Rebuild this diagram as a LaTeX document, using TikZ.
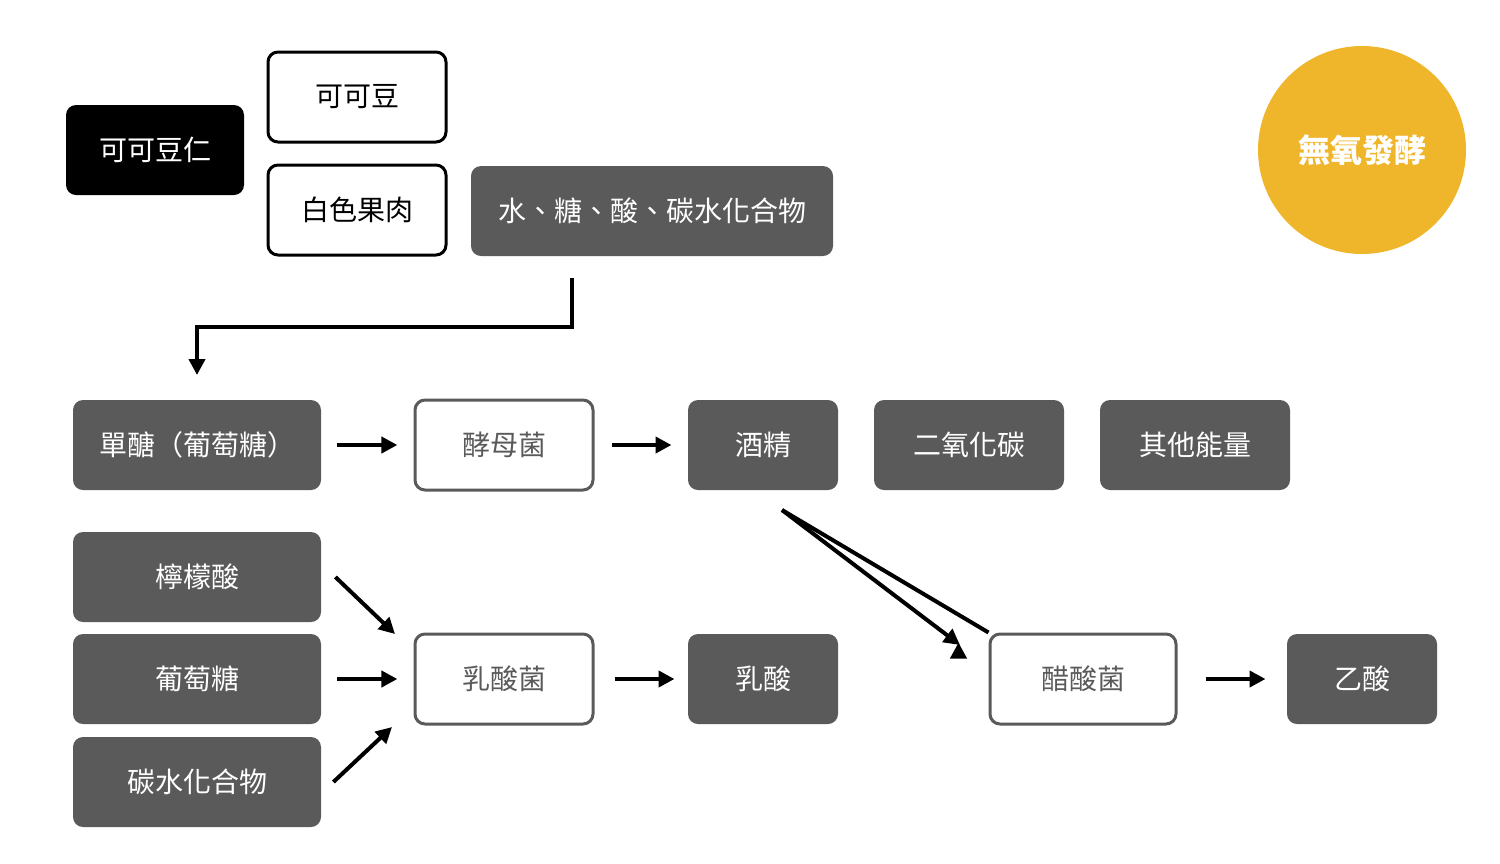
\documentclass[tikz,border=0pt]{standalone}
\usepackage{fontspec}
\setmainfont{Noto Sans CJK TC}
\usetikzlibrary{arrows.meta}
\definecolor{boxgray}{HTML}{5A5A5A}
\definecolor{fermyellow}{HTML}{F0B62B}
\begin{document}
\begin{tikzpicture}[x=0.5pt,y=-0.5pt,
  box/.style={rounded corners=5pt, minimum height=45pt, inner sep=0pt, font=\fontsize{14}{16}\selectfont},
  dark/.style={box, fill=boxgray, text=white},
  light/.style={box, draw=boxgray, line width=1.5pt, fill=white, text=boxgray},
  plain/.style={box, draw=black, line width=1.5pt, fill=white, text=black},
  flow/.style={line width=2pt, -{Triangle[length=8pt,width=8pt]}}]
\useasboundingbox (0,0) rectangle (1500,863);
%top
\node[box, fill=black, text=white, minimum width=89pt] (kernel) at (155,150) {可可豆仁};
\node[plain, minimum width=89pt] (bean) at (357,97) {可可豆};
\node[plain, minimum width=89pt] (pulp) at (357,210) {白色果肉};
\node[dark, minimum width=181pt] (content) at (652,211) {水、糖、酸、碳水化合物};
\node[circle, fill=fermyellow, minimum size=104pt, text=white, font=\fontsize{16}{18}\selectfont\bfseries] (anaer) at (1362,150) {無氧發酵};
%yeast row
\node[dark, minimum width=124pt] (mono) at (197,445) {單醣（葡萄糖）};
\node[light, minimum width=89pt] (yeast) at (504,445) {酵母菌};
\node[dark, minimum width=75pt] (alcohol) at (763,445) {酒精};
\node[dark, minimum width=95pt] (co2) at (969,445) {二氧化碳};
\node[dark, minimum width=95pt] (energy) at (1195,445) {其他能量};
%lactic row
\node[dark, minimum width=124pt] (citric) at (197,577) {檸檬酸};
\node[dark, minimum width=124pt] (glucose) at (197,679) {葡萄糖};
\node[dark, minimum width=124pt] (carbo) at (197,782) {碳水化合物};
\node[light, minimum width=89pt] (lacb) at (504,679) {乳酸菌};
\node[dark, minimum width=75pt] (lactic) at (763,679) {乳酸};
\node[light, minimum width=93pt] (aceb) at (1083,679) {醋酸菌};
\node[dark, minimum width=75pt] (acetic) at (1362,679) {乙酸};
%arrows
\coordinate (c0) at (572,278);
\coordinate (c1) at (197,375);
\draw[flow] (c0) |- (385,327) -| (c1);
\draw[flow] (mono.east) ++(16,0) coordinate (a1) -- ++(60,0);
\draw[flow] (yeast.east) ++(17,0) -- ++(60,0);
\draw[flow] (citric.east) ++(14,0) -- (395,634);
\draw[flow] (glucose.east) ++(16,0) -- ++(60,0);
\draw[flow] (carbo.east) ++(12,0) -- (392,727);
\draw[flow] (lacb.east) ++(20,0) -- ++(60,0);
\draw[flow] (782,510) -- (aceb.north west) ++(-30,10) coordinate (ae);
\draw[flow] (782,510) -- (960,645);
\draw[flow] (aceb.east) ++(28,0) -- ++(60,0);
\end{tikzpicture}
\end{document}
